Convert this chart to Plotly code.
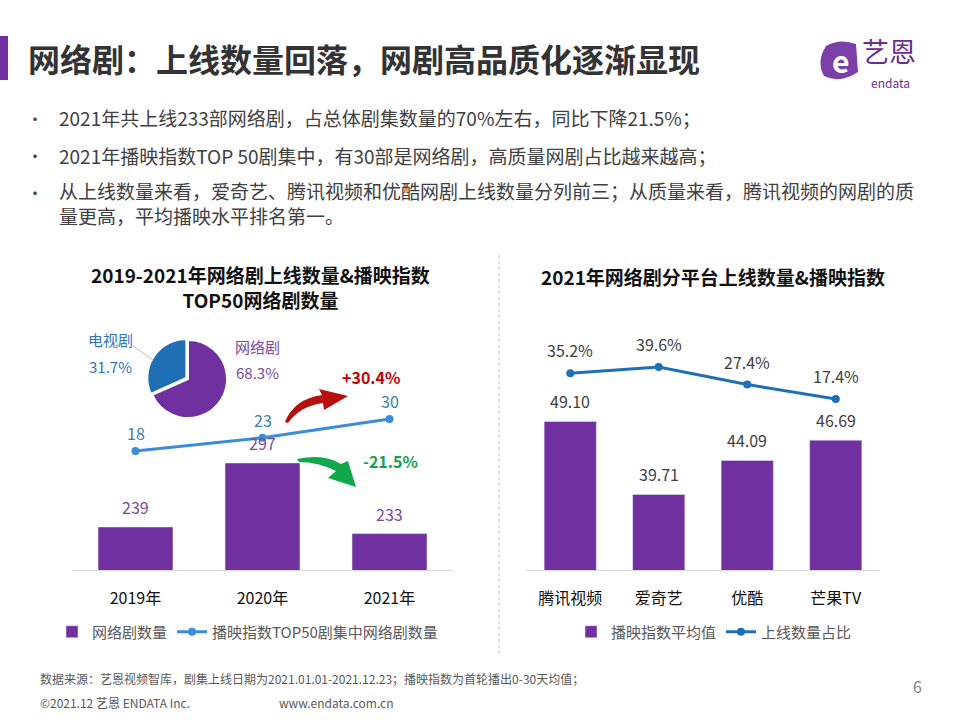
import plotly.graph_objects as go

W, H = 960, 720
FONT = "Noto Sans CJK SC"
PURPLE = "#7030a0"

# ---------------- data ----------------
years = ["2019年", "2020年", "2021年"]
web_drama_count = [239, 297, 233]
top50_web_count = [18, 23, 30]

pie_labels = ["网络剧", "电视剧"]
pie_values = [68.3, 31.7]

platforms = ["腾讯视频", "爱奇艺", "优酷", "芒果TV"]
play_index_avg = [49.10, 39.71, 44.09, 46.69]
launch_share = [35.2, 39.6, 27.4, 17.4]

bullets = [
    "2021年共上线233部网络剧，占总体剧集数量的70%左右，同比下降21.5%；",
    "2021年播映指数TOP 50剧集中，有30部是网络剧，高质量网剧占比越来越高；",
    "从上线数量来看，爱奇艺、腾讯视频和优酷网剧上线数量分列前三；从质量来看，腾讯视频的网剧的质<br>量更高，平均播映水平排名第一。",
]


def px(x, y):
    return x / W, 1 - y / H


fig = go.Figure()

# left chart: bars + line
fig.add_trace(go.Bar(
    x=years, y=web_drama_count, name="网络剧数量",
    marker=dict(color=PURPLE), xaxis="x", yaxis="y",
    legend="legend", hoverinfo="skip",
))
fig.add_trace(go.Scatter(
    x=years, y=top50_web_count, name="播映指数TOP50剧集中网络剧数量",
    mode="lines+markers", line=dict(color="#3a8ddb", width=3),
    marker=dict(size=8, color="#3a8ddb"), xaxis="x", yaxis="y2",
    legend="legend", hoverinfo="skip",
))

# right chart
fig.add_trace(go.Bar(
    x=platforms, y=play_index_avg, name="播映指数平均值",
    marker=dict(color=PURPLE), xaxis="x3", yaxis="y3",
    legend="legend2", hoverinfo="skip",
))
fig.add_trace(go.Scatter(
    x=platforms, y=launch_share, name="上线数量占比",
    mode="lines+markers", line=dict(color="#1f6fb5", width=3),
    marker=dict(size=8, color="#1f6fb5"), xaxis="x3", yaxis="y4",
    legend="legend2", hoverinfo="skip",
))

# pie
fig.add_trace(go.Pie(
    labels=pie_labels, values=pie_values, sort=False, direction="clockwise",
    marker=dict(colors=[PURPLE, "#1f6fb5"], line=dict(color="white", width=2)),
    pull=[0, 0.05], textinfo="none", showlegend=False, hoverinfo="skip",
    domain=dict(x=[147 / W, 229 / W], y=[1 - 421 / H, 1 - 337 / H]),
))

ann = []
# bar value labels
for c, v in zip(years, web_drama_count):
    ann.append(dict(x=c, y=v, xref="x", yref="y", text=str(v), showarrow=False,
                    yanchor="bottom", yshift=6, font=dict(size=16, color="#7a4a9e")))
for c, v in zip(years, top50_web_count):
    ann.append(dict(x=c, y=v, xref="x", yref="y2", text=str(v), showarrow=False,
                    yanchor="bottom", yshift=4, font=dict(size=16, color="#3d7fa8")))
for c, v in zip(platforms, play_index_avg):
    ann.append(dict(x=c, y=v, xref="x3", yref="y3", text=f"{v:.2f}", showarrow=False,
                    yanchor="bottom", yshift=6, font=dict(size=16, color="#404040")))
for c, v in zip(platforms, launch_share):
    ann.append(dict(x=c, y=v, xref="x3", yref="y4", text=f"{v:.1f}%", showarrow=False,
                    yanchor="bottom", yshift=9, font=dict(size=16, color="#404040")))


def txt(x, y, s, size, color, bold=False, xanchor="center", yanchor="middle", family=FONT,
        align="center"):
    xx, yy = px(x, y)
    ann.append(dict(x=xx, y=yy, xref="paper", yref="paper", text=f"<b>{s}</b>" if bold else s,
                    showarrow=False, xanchor=xanchor, yanchor=yanchor, align=align,
                    font=dict(size=size, color=color, family=family)))


# header
txt(26, 58, "网络剧：上线数量回落，网剧高品质化逐渐显现", 32, "#333333", bold=True, xanchor="left")
txt(889, 72, "艺恩", 27, "#6a2c91", yanchor="bottom")
txt(890, 72, "endata", 12, "#6a2c91", yanchor="top")
txt(840, 60, "<b>e</b>", 30, "white", xanchor="center")

# bullets
for s, y in zip(bullets, [118, 155, 192]):
    txt(35, y, "•", 16, "#404040")
txt(57, 118, bullets[0], 19, "#404040", xanchor="left", align="left")
txt(57, 155, bullets[1], 19, "#404040", xanchor="left", align="left")
txt(57, 203, bullets[2], 19, "#404040", xanchor="left", align="left")

# chart titles
txt(260, 287, "<b>2019-2021年网络剧上线数量&播映指数<br>TOP50网络剧数量</b>", 19, "#111111")
txt(713, 276, "2021年网络剧分平台上线数量&播映指数", 19, "#111111", bold=True)

# pie labels
txt(110, 339, "电视剧", 15, "#2e75b6")
txt(110, 366, "31.7%", 15, "#2e75b6")
txt(257, 346, "网络剧", 15, "#7a4a9e")
txt(257, 372, "68.3%", 15, "#7a4a9e")

# growth labels
txt(371, 377, "+30.4%", 16, "#c00000", bold=True)
txt(390, 461, "-21.5%", 16, "#1aa050", bold=True)

# footer
txt(38, 678, "数据来源：艺恩视频智库，剧集上线日期为2021.01.01-2021.12.23；播映指数为首轮播出0-30天均值；",
    12, "#595959", xanchor="left")
txt(38, 702, "©2021.12 艺恩 ENDATA Inc.", 12, "#595959", xanchor="left")
txt(277, 702, "www.endata.com.cn", 12, "#595959", xanchor="left")
txt(917, 686, "6", 16, "#7f7f7f")


def path(points, closed=True):
    s = ""
    for p in points:
        cmd = p[0]
        coords = p[1:]
        parts = []
        for j in range(0, len(coords), 2):
            xx, yy = px(coords[j], coords[j + 1])
            parts.append(f"{xx:.5f},{yy:.5f}")
        s += cmd + " " + " ".join(parts) + " "
    if closed:
        s += "Z"
    return s


shapes = []
# header bar
x0, y0 = px(0, 36)
x1, y1 = px(8, 80)
shapes.append(dict(type="rect", xref="paper", yref="paper", x0=x0, y0=y1, x1=x1, y1=y0,
                   fillcolor=PURPLE, line=dict(width=0)))
# logo blob
shapes.append(dict(type="path", xref="paper", yref="paper",
                   path=path([("M", 826, 46), ("Q", 840, 38, 856, 44), ("L", 858, 72),
                              ("Q", 840, 84, 824, 76), ("Q", 816, 62, 826, 46)]),
                   fillcolor="#7b3fa8", line=dict(width=0)))
# divider
dx, dy0 = px(499, 255)
_, dy1 = px(499, 655)
shapes.append(dict(type="line", xref="paper", yref="paper", x0=dx, x1=dx, y0=dy0, y1=dy1,
                   line=dict(color="#bfbfbf", width=1, dash="dot")))
# pie leader
lx0, ly0 = px(133, 346)
lx1, ly1 = px(153, 360)
shapes.append(dict(type="line", xref="paper", yref="paper", x0=lx0, y0=ly0, x1=lx1, y1=ly1,
                   line=dict(color="#bfbfbf", width=1)))
# red curved arrow
shapes.append(dict(type="path", xref="paper", yref="paper",
                   path=path([("M", 285, 422), ("Q", 294, 399, 322, 395), ("L", 319, 389),
                              ("L", 348, 396), ("L", 324, 410), ("L", 323, 403),
                              ("Q", 300, 406, 288, 423)]),
                   fillcolor="#b50f0f", line=dict(width=0)))
# green curved arrow
shapes.append(dict(type="path", xref="paper", yref="paper",
                   path=path([("M", 297, 459), ("Q", 324, 453, 341, 464), ("L", 348, 461),
                              ("L", 356, 487), ("L", 328, 478), ("L", 336, 471),
                              ("Q", 318, 462, 299, 462)]),
                   fillcolor="#10a84a", line=dict(width=0)))

ydom = [1 - 570 / H, 1 - 330 / H]
fig.update_layout(
    width=W, height=H, margin=dict(l=0, r=0, t=0, b=0),
    paper_bgcolor="white", plot_bgcolor="white",
    font=dict(family=FONT, color="#404040"),
    bargap=0.41,
    xaxis=dict(domain=[72 / W, 453 / W], anchor="y", showline=True, linecolor="#d9d9d9",
               linewidth=1, ticks="outside", ticklen=14, tickcolor="rgba(0,0,0,0)",
               tickfont=dict(size=16, color="#111111"), showgrid=False, fixedrange=True),
    yaxis=dict(domain=ydom, anchor="x", range=[200, 417.5], visible=False, showgrid=False),
    yaxis2=dict(overlaying="y", anchor="x", range=[-26.6, 63.4], visible=False, showgrid=False),
    xaxis3=dict(domain=[526 / W, 880 / W], anchor="y3", showline=True, linecolor="#d9d9d9",
                linewidth=1, ticks="outside", ticklen=14, tickcolor="rgba(0,0,0,0)",
                tickfont=dict(size=16, color="#111111"), showgrid=False),
    yaxis3=dict(domain=ydom, anchor="x3", range=[30, 60.86], visible=False, showgrid=False),
    yaxis4=dict(overlaying="y3", anchor="x3", range=[-101.4, 65.3], visible=False, showgrid=False),
    legend=dict(orientation="h", x=52 / W, y=1 - 632 / H, xanchor="left", yanchor="middle",
                font=dict(size=15, color="#595959"), bgcolor="rgba(0,0,0,0)"),
    legend2=dict(orientation="h", x=571 / W, y=1 - 632 / H, xanchor="left", yanchor="middle",
                 font=dict(size=15, color="#595959"), bgcolor="rgba(0,0,0,0)"),
    annotations=ann, shapes=shapes,
)

fig.write_html("out.html", config={"displayModeBar": False},
               post_script="document.body.style.margin='0';document.body.style.overflow='hidden';")
